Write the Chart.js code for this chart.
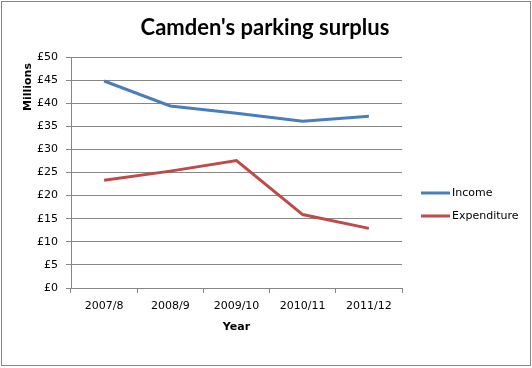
<!DOCTYPE html>
<html><head><meta charset="utf-8">
<script src="https://cdn.jsdelivr.net/npm/chart.js@4/dist/chart.umd.min.js"></script>
<style>html,body{margin:0;padding:0;background:#fff;}#wrap{width:532px;height:368px;position:relative;}</style>
</head><body><div id="wrap"><canvas id="c" width="532" height="368"></canvas></div>
<script>
const categories = ["2007/8", "2008/9", "2009/10", "2010/11", "2011/12"];
const incomeValues = [44.8, 39.4, 37.8, 36.1, 37.2];
const expenditureValues = [23.3, 25.3, 27.6, 15.9, 12.9];
const seriesNames = ["Income", "Expenditure"];
const chartTitle = "Camden's parking surplus";
const xTitle = "Year";
const yTitle = "Millions";

const TICK_FONT = {family: "DejaVu Sans", size: 11};
const extras = {
  id: 'extras',
  afterDraw(chart) {
    const ctx = chart.ctx;
    ctx.save();
    // border
    ctx.strokeStyle = '#868686';
    ctx.lineWidth = 1;
    ctx.strokeRect(1.5, 1.5, 529, 364);
    // title
    ctx.fillStyle = '#000';
    ctx.font = 'bold 22px Lato';
    ctx.textAlign = 'center';
    ctx.textBaseline = 'alphabetic';
    ctx.fillText(chartTitle, 265, 35);
    // x title
    ctx.font = 'bold 11px "DejaVu Sans"';
    ctx.fillText(xTitle, chart.chartArea.left + (chart.chartArea.right - chart.chartArea.left)/2, 330);
    // y title
    ctx.save();
    ctx.translate(28, 87);
    ctx.rotate(-Math.PI/2);
    ctx.textBaseline = 'middle';
    ctx.fillText(yTitle, 0, 0);
    ctx.restore();
    // legend
    ctx.font = '11px "DejaVu Sans"';
    ctx.textAlign = 'left';
    ctx.textBaseline = 'middle';
    const ys = [193, 216];
    chart.data.datasets.forEach((ds, i) => {
      ctx.strokeStyle = ds.borderColor;
      ctx.lineWidth = 3;
      ctx.beginPath();
      ctx.moveTo(421, ys[i]);
      ctx.lineTo(450, ys[i]);
      ctx.stroke();
      ctx.fillStyle = '#000';
      ctx.fillText(ds.label, 452, ys[i]);
    });
    ctx.restore();
  }
};

new Chart(document.getElementById('c'), {
  type: 'line',
  data: {
    labels: categories,
    datasets: [
      {label: seriesNames[0], data: incomeValues, borderColor: '#4A7EBB', backgroundColor: '#4A7EBB', borderWidth: 3, pointRadius: 0, tension: 0},
      {label: seriesNames[1], data: expenditureValues, borderColor: '#BE4B48', backgroundColor: '#BE4B48', borderWidth: 3, pointRadius: 0, tension: 0}
    ]
  },
  options: {
    responsive: false,
    animation: false,
    devicePixelRatio: 1,
    layout: {padding: {top: 57, left: 0, right: 130, bottom: 20}},
    plugins: {legend: {display: false}, title: {display: false}, tooltip: {enabled: false}},
    scales: {
      x: {
        offset: true,
        grid: {offset: true, drawOnChartArea: false, drawTicks: true, tickLength: 5, color: '#868686'},
        border: {color: '#868686', width: 1},
        ticks: {color: '#000', font: TICK_FONT, padding: 7, maxRotation: 0},
        afterFit(s) { s.height = 368 - 20 - 288; }
      },
      y: {
        min: 0, max: 50,
        ticks: {stepSize: 5, color: '#000', font: TICK_FONT, padding: 8, callback: v => '£' + v},
        grid: {color: '#868686', tickLength: 5, lineWidth: 1},
        border: {color: '#868686', width: 1},
        afterFit(s) { s.width = 71; }
      }
    }
  },
  plugins: [extras]
});
</script></body></html>
